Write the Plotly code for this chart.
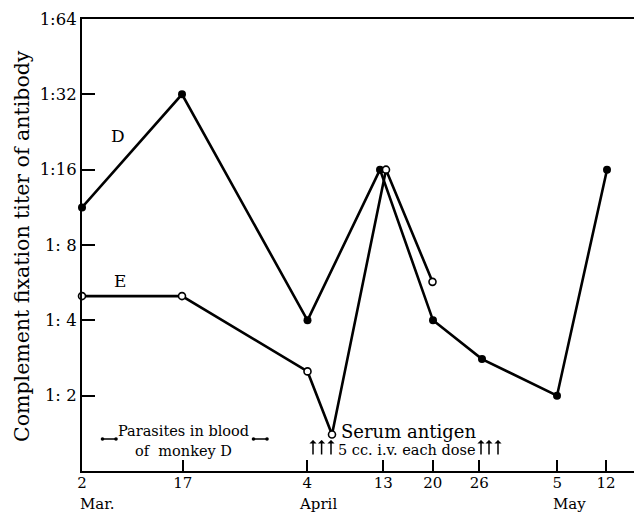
import plotly.graph_objects as go
import math

# ---- data (x = position on the chart's hand-drawn date scale, y = titer 1:n) ----
tick_pos = [0, 10.07, 22.53, 30.13, 35.07, 39.73, 47.53, 52.4]
tick_text = ["2", "17", "4", "13", "20", "26", "5", "12"]
months = ["Mar.", "April", "May"]

d_x = [0, 10.0, 22.55, 29.8, 35.1, 40.0, 47.5, 52.5]
d_titer = [11.3, 32, 4, 16, 4, 2.8, 2, 16]

e_x = [0, 10.0, 22.55, 25.0, 30.4, 35.05]
e_titer = [5, 5, 2.5, 1.4, 16, 5.7]

y_ticks = [2, 4, 8, 16, 32, 64]
y_tick_text = ["1: 2", "1: 4", "1: 8", "1:16", "1:32", "1:64"]

injections_x = [23.1, 23.96, 24.9, 39.9, 40.7, 41.6]

W, H = 636, 517
L, R, T, B = 82, 2, 19, 46
PW, PH = W - L - R, H - T - B
FONT = "DejaVu Serif"


def px(x):
    return (x - L) / PW


def py(y):
    return (H - B - y) / PH


def label(x, y, text, size, **kw):
    d = dict(xref="paper", yref="paper", x=px(x), y=py(y), text=text,
             showarrow=False, xanchor="center", yanchor="middle",
             font=dict(family=FONT, size=size, color="black"))
    d.update(kw)
    return d


fig = go.Figure()
fig.add_trace(go.Scatter(
    x=d_x, y=d_titer, mode="lines+markers", name="D",
    line=dict(color="black", width=2.6),
    marker=dict(symbol="circle", size=8, color="black"),
    cliponaxis=False,
))
fig.add_trace(go.Scatter(
    x=e_x, y=e_titer, mode="lines+markers", name="E",
    line=dict(color="black", width=2.6),
    marker=dict(symbol="circle", size=7, color="white",
                line=dict(color="black", width=1.6)),
    cliponaxis=False,
))

ann = []
ann.append(label(22, 246, "Complement fixation titer of antibody", 20.5, textangle=-90))
ann.append(label(118, 136, "D", 17))
ann.append(label(120, 281, "E", 17))
for m, (mx, my) in zip(months, [(97, 504), (318, 504), (569, 504)]):
    ann.append(label(mx, my, m, 15))
ann.append(label(183.5, 430.5, "Parasites in blood", 14.5))
ann.append(label(183, 450.5, "of  monkey D", 14.5))
for x0, x1 in [(101, 116), (252, 267)]:
    ann.append(dict(xref="paper", yref="paper", x=px(x1), y=py(439),
                    ax=x0 - x1, ay=0, text="", showarrow=True,
                    arrowside="end+start", arrowhead=6, startarrowhead=6,
                    arrowsize=0.6, startarrowsize=0.6, arrowwidth=1.5, arrowcolor="black"))
ann.append(label(408, 431.5, "Serum antigen", 18))
ann.append(label(407, 450, "5 cc. i.v. each dose", 14.5))
for ix in injections_x:
    ann.append(dict(xref="x", yref="paper", x=ix, y=py(440),
                    ax=0, ay=16, text="", showarrow=True,
                    arrowhead=1, arrowsize=0.8, arrowwidth=1.5, arrowcolor="black"))

fig.update_layout(
    width=W, height=H,
    margin=dict(l=L, r=R, t=T, b=B, autoexpand=False),
    paper_bgcolor="white", plot_bgcolor="white",
    showlegend=False,
    font=dict(family=FONT, color="black"),
    annotations=ann,
    xaxis=dict(
        range=[0, PW / 10], tickmode="array", tickvals=tick_pos, ticktext=tick_text,
        ticks="inside", ticklen=11, tickwidth=1.5, tickcolor="black",
        showline=True, linecolor="black", linewidth=2, mirror=True,
        showgrid=False, zeroline=False, automargin=False,
        ticklabelstandoff=-3,
        tickfont=dict(family=FONT, size=15, color="black"),
    ),
    yaxis=dict(
        type="log", range=[0, math.log10(64)],
        tickmode="array", tickvals=y_ticks, ticktext=y_tick_text,
        ticks="inside", ticklen=13, tickwidth=1.5, tickcolor="black",
        showline=True, linecolor="black", linewidth=2,
        showgrid=False, zeroline=False, automargin=False,
        tickfont=dict(family=FONT, size=16.5, color="black"),
    ),
)

fig.write_html(
    "out.html",
    config={"displayModeBar": False},
    post_script="document.body.style.margin='0';document.body.style.overflow='hidden';",
)
